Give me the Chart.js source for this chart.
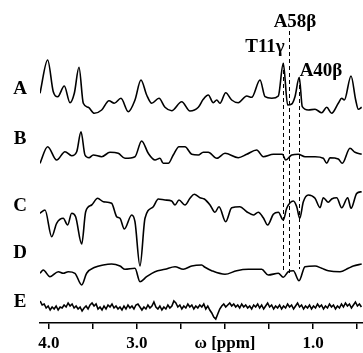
<!DOCTYPE html>
<html>
<head>
<meta charset="utf-8">
<script src="https://cdn.jsdelivr.net/npm/chart.js@4/dist/chart.umd.min.js"></script>
<style>
  body { margin: 0; background: #fff; }
  #chart { display: block; }
</style>
</head>
<body>
<canvas id="chart" width="363" height="353"></canvas>
<script>
// chemical shift (ppm) and intensity for each trace
const shiftA = [4.102, 4.015, 3.951, 3.901, 3.826, 3.761, 3.712, 3.659, 3.610, 3.553, 3.485, 3.401, 3.318, 3.258, 3.182, 3.099, 3.023, 2.955, 2.890, 2.833, 2.750, 2.682, 2.606, 2.492, 2.398, 2.303, 2.247, 2.190, 2.133, 2.094, 2.057, 1.992, 1.924, 1.849, 1.753, 1.697, 1.602, 1.545, 1.469, 1.394, 1.338, 1.288, 1.242, 1.205, 1.156, 1.122, 1.053, 0.977, 0.901, 0.844, 0.788, 0.713, 0.674, 0.644, 0.568, 0.515, 0.485, 0.447];
const intensityA = [14.7, 48, 16.3, 11.3, 22, 5.3, 14.7, 40.7, 4.7, 0.7, -5.3, -2, 7.3, 4.7, 9.7, -3.7, 8, 28, 13, 4.7, 9.7, 0.7, -2.7, 6.3, -3, 0.7, 8.7, 13, 5.3, 8, 4.7, 15.3, 8, 5.3, 12, 10.7, 28, 11.3, 9.7, 12, 44.7, 3, 4, 11.3, 30.7, 1.3, -2, -1.3, -4.7, 0.7, -5.3, 4.7, 9.7, 8, 32, 8, -1.3, 0.7];

const shiftB = [4.102, 4.015, 3.913, 3.818, 3.742, 3.685, 3.636, 3.591, 3.545, 3.497, 3.401, 3.307, 3.213, 3.136, 3.023, 2.947, 2.872, 2.795, 2.739, 2.701, 2.644, 2.588, 2.523, 2.455, 2.378, 2.303, 2.247, 2.190, 2.094, 2.000, 1.849, 1.753, 1.640, 1.565, 1.451, 1.349, 1.310, 1.242, 1.167, 1.091, 0.977, 0.883, 0.844, 0.807, 0.713, 0.667, 0.580, 0.523, 0.447];
const intensityB = [-7.3, 9.3, -4, 4.3, 0.3, 4.3, 24.3, 1, -1.7, 1, -0.7, 3.7, 2.7, -2.3, -0.7, 15, 2.7, -4, -2.3, -7.3, -7.3, 1, 9.3, 9.3, 1.7, 1, 3.7, 3.7, -2.3, 2.7, -1.7, 1.7, 6, -0.7, 1.7, 1.7, -4, 1, 1.7, -0.7, -0.7, -2.3, -7.3, -1.7, -3, -7.3, 7.7, 3.7, 1.7];

const shiftC = [4.102, 4.045, 3.969, 3.913, 3.838, 3.788, 3.742, 3.697, 3.628, 3.583, 3.515, 3.447, 3.383, 3.288, 3.231, 3.193, 3.144, 3.060, 3.023, 2.966, 2.909, 2.815, 2.758, 2.682, 2.606, 2.568, 2.523, 2.455, 2.398, 2.349, 2.284, 2.235, 2.170, 2.114, 2.068, 1.992, 1.924, 1.830, 1.753, 1.678, 1.622, 1.565, 1.515, 1.451, 1.394, 1.338, 1.299, 1.224, 1.185, 1.151, 1.110, 1.053, 0.977, 0.920, 0.883, 0.826, 0.788, 0.731, 0.674, 0.606, 0.568, 0.503, 0.447];
const intensityC = [-8.3, -5, -31.7, -18.3, -13.3, -20, -8.3, -11.7, -39, -6.7, 0, 6.7, 3.3, 1.7, -11.7, -13.3, -24, -10, -16.7, -61, -13.3, -1.7, 6, 5, 4, 0, 5, 0, 6.7, 10.7, 7.3, 6, 0, -7.3, -1.7, -16.7, -2.7, -1.7, -6.7, -10, -7.3, -12.7, -20, -9.3, -7.3, -15, -3.3, 4, -1.7, -13.3, 3.3, 10, 6.7, -2.7, 7.3, 2.7, 6, 7.3, -2.7, 7.3, -3.3, 11.7, 13.3];

const shiftD = [4.102, 4.065, 3.989, 3.894, 3.838, 3.781, 3.705, 3.628, 3.572, 3.477, 3.383, 3.288, 3.193, 3.136, 3.023, 2.966, 2.890, 2.795, 2.682, 2.568, 2.474, 2.378, 2.265, 2.227, 2.151, 2.000, 1.867, 1.735, 1.583, 1.508, 1.394, 1.338, 1.281, 1.224, 1.159, 1.091, 0.977, 0.901, 0.826, 0.693, 0.599, 0.542, 0.447];
const intensityD = [-3.3, 0, -6.7, -1.7, -3.3, -1.7, -3.3, -15, -3.3, 2.7, 5, 6, 4, 0.7, 1.7, -11.7, -6.7, -1.7, 0.7, 3.3, 0.7, 4, 5, 2.7, -0.7, -4.3, -0.7, 0.7, 0.7, -5, -3.3, -7.3, -1.7, -0.7, -10.7, 3.3, 4, 1.7, -0.7, -1.7, 1.7, 4, 6];

// trace E is sampled evenly across the window
const shiftRangeE = [4.10, 0.45];
const intensityE = [7, 3, 4, 0, 2, -2, 1, -1, 2, -2, 1, 0, 3, 1, 5, 2, 4, 0, 2, -1, 1, -3, 0, 2, -1, 3, 5, 2, 4, -1, 1, -2, 2, -1, 3, 1, 4, 0, 2, -1, 1, -2, 2, -1, 3, 0, 2, -1, 3, 4, 1, -2, 1, -1, 3, 0, 2, 6, 1, -1, 2, -2, 1, -1, 3, 0, 2, 7, 5, 1, 3, -1, 2, 0, 4, 1, 3, -1, 2, 0, 3, 1, 4, -1, 2, -2, -5, -9, -11, -6, -1, 2, 4, 1, 3, 5, 2, 4, 1, 3, 0, 4, 1, 3, 0, 2, -1, 3, 1, 4, 0, 3, -1, 2, 5, 1, 3, -1, 2, 0, 3, -1, 2, 0, 4, 1, 3, -1, 2, 5, 1, 3, -1, 2, 0, 3, -1, 2, 0, 4, 1, 3, -1, 2, 0, 4, 1, 3, -1, 2, 0, 4, 1, 5, 2, 4, 0, 3, 6, 2, 4, 1];

const traceNames = ['A', 'B', 'C', 'D', 'E'];
const traceOffsets = [215, 167, 118, 53, 15];

const markerShifts = [1.34, 1.27, 1.16];
const markerLabels = ['T11\u03b3', 'A58\u03b2', 'A40\u03b2'];

const tickValues = [4.0, 3.5, 3.0, 2.5, 2.0, 1.5, 1.0, 0.5];
const tickLabels = ['4.0', '', '3.0', '', '\u03c9 [ppm]', '', '1.0', ''];

const shiftE = intensityE.map((v, i) =>
    shiftRangeE[0] + (shiftRangeE[1] - shiftRangeE[0]) * i / (intensityE.length - 1));

const shifts = [shiftA, shiftB, shiftC, shiftD, shiftE];
const intensities = [intensityA, intensityB, intensityC, intensityD, intensityE];

const serif = '"Liberation Serif", "DejaVu Serif", serif';

const datasets = traceNames.map((name, k) => ({
    label: name,
    data: shifts[k].map((s, i) => ({ x: s, y: intensities[k][i] + traceOffsets[k] })),
    borderColor: '#000',
    borderWidth: k === 4 ? 1.6 : 1.6,
    pointRadius: 0,
    cubicInterpolationMode: k === 4 ? 'default' : 'monotone',
    tension: 0,
    fill: false
}));

// where the labels sit on the page (pixels)
const letterPos = [[20, 89], [20, 139], [20, 206], [20, 253], [20, 302]];
const markerLinePx = [[63, 273], [31, 273], [78, 269]];
const markerLabelPx = [[265, 47], [295, 22], [321, 71]];

const decorations = {
    id: 'decorations',
    afterDatasetsDraw(chart) {
        const ctx = chart.ctx;
        const xs = chart.scales.x;
        ctx.save();
        ctx.fillStyle = '#000';
        ctx.font = 'bold 19px ' + serif;
        ctx.textAlign = 'center';
        ctx.textBaseline = 'middle';
        traceNames.forEach((n, k) => ctx.fillText(n, letterPos[k][0], letterPos[k][1]));

        ctx.strokeStyle = '#000';
        ctx.lineWidth = 1;
        ctx.setLineDash([4, 3]);
        markerShifts.forEach((s, k) => {
            const px = Math.round(xs.getPixelForValue(s)) + 0.5;
            ctx.beginPath();
            ctx.moveTo(px, markerLinePx[k][0]);
            ctx.lineTo(px, markerLinePx[k][1]);
            ctx.stroke();
        });
        ctx.setLineDash([]);

        ctx.font = 'bold 19px ' + serif;
        markerLabels.forEach((t, k) => ctx.fillText(t, markerLabelPx[k][0], markerLabelPx[k][1]));
        ctx.restore();
    }
};

new Chart(document.getElementById('chart').getContext('2d'), {
    type: 'line',
    data: { datasets: datasets },
    options: {
        responsive: false,
        animation: false,
        layout: { padding: { left: 40, right: 0, top: 0, bottom: 0 } },
        plugins: { legend: { display: false }, tooltip: { enabled: false } },
        scales: {
            x: {
                type: 'linear',
                reverse: true,
                min: 0.432,
                max: 4.102,
                afterBuildTicks: scale => { scale.ticks = tickValues.map(v => ({ value: v })); },
                afterFit: scale => { scale.height = 30; },
                border: { display: true, color: '#000', width: 1.5 },
                grid: { drawOnChartArea: false, tickLength: 6, color: '#000', lineWidth: 1.5 },
                ticks: {
                    autoSkip: false,
                    maxRotation: 0,
                    padding: 4,
                    color: '#000',
                    font: { family: serif, size: 17, weight: 'bold' },
                    callback: (v, i) => tickLabels[i]
                }
            },
            y: { display: false, min: 0, max: 323 }
        }
    },
    plugins: [decorations]
});
</script>
</body>
</html>
